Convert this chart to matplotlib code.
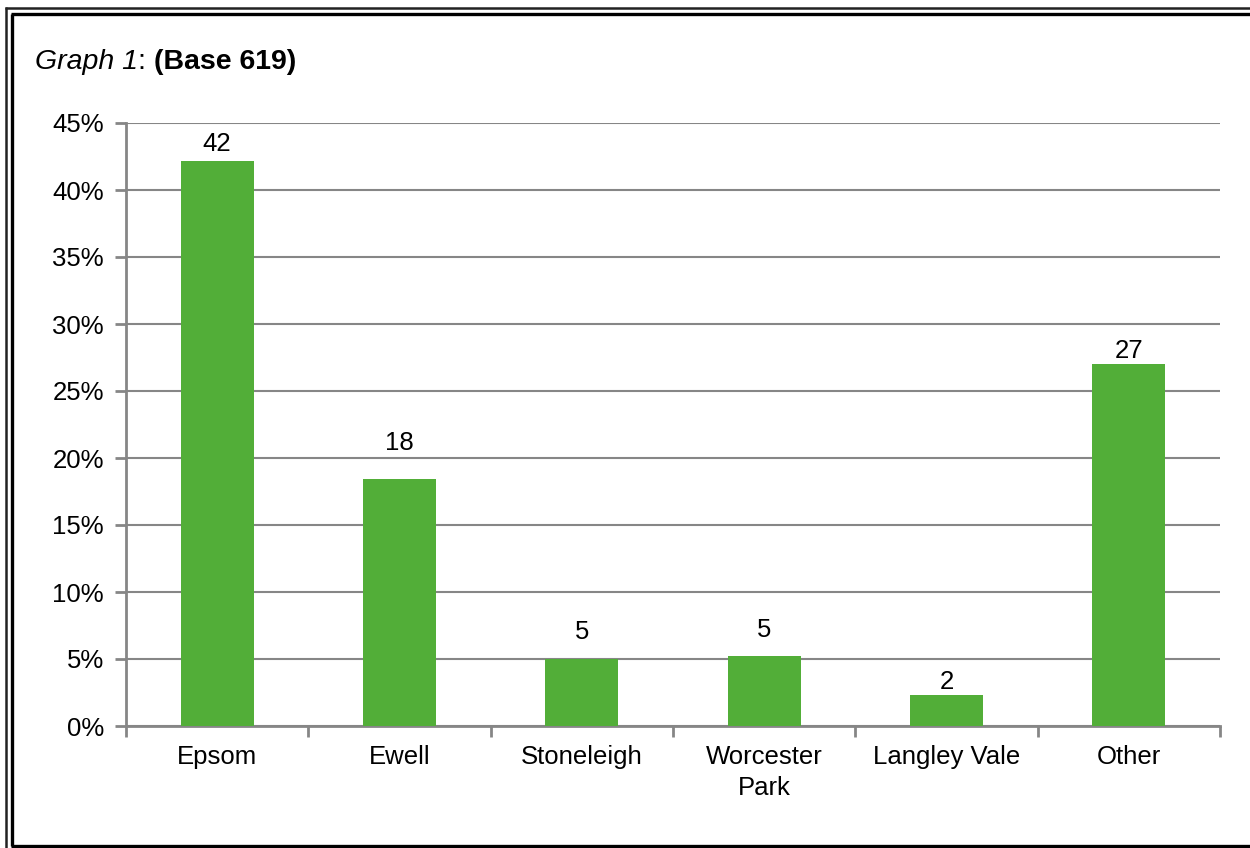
import matplotlib
matplotlib.use("Agg")
import matplotlib.pyplot as plt
from matplotlib.lines import Line2D
from matplotlib.ticker import PercentFormatter, FixedLocator

# data
categories = ["Epsom", "Ewell", "Stoneleigh", "Worcester\nPark", "Langley Vale", "Other"]
values = [42.2, 18.4, 5.0, 5.2, 2.3, 27.0]
labels = ["42", "18", "5", "5", "2", "27"]

# how far (px) each label's centre sits above its bar, as in the source
label_gap = [17, 36, 27, 26, 13, 13]

plt.rcParams["font.family"] = ["Liberation Sans", "DejaVu Sans"]

W, H = 1250, 848
fs = 18.5
fig = plt.figure(figsize=(W / 100, H / 100), dpi=100)
ax = fig.add_axes([126 / W, 1 - 726 / H, (1220 - 126) / W, (726 - 123) / H])

grid_c = "#868686"
green = "#52AE38"

x = list(range(len(categories)))
ax.bar(x, values, width=0.4, color=green, zorder=3)
for xi, v, lab, g in zip(x, values, labels, label_gap):
    ax.annotate(lab, (xi, v), xytext=(0, g * 0.72), textcoords="offset points",
                ha="center", va="center", fontsize=fs, color="black")

ax.set_xlim(-0.5, len(categories) - 0.5)
ax.set_ylim(0, 45)
ax.set_yticks(range(0, 46, 5))
ax.yaxis.set_major_formatter(PercentFormatter(decimals=0))
ax.set_xticks(x)
ax.set_xticklabels(categories, fontsize=fs, linespacing=1.35)
ax.tick_params(axis="x", length=0, pad=14)
ax.xaxis.set_minor_locator(FixedLocator([i - 0.5 for i in range(len(categories) + 1)]))
ax.tick_params(axis="x", which="minor", length=8, width=2, color=grid_c)
ax.tick_params(axis="y", labelsize=fs, length=8, width=2, color=grid_c, pad=8)
ax.grid(axis="y", color=grid_c, linewidth=1.5, zorder=0)
for s in ["top", "right"]:
    ax.spines[s].set_visible(False)
for s in ["left", "bottom"]:
    ax.spines[s].set_color(grid_c)
    ax.spines[s].set_linewidth(2)

# title pieces chained one after another
tfs = 20.5
base_y = 1 - 69 / H
t1 = fig.text(35 / W, base_y, "Graph 1", style="italic", fontsize=tfs, va="baseline")
t2 = fig.text(0, base_y, ": ", fontsize=tfs, va="baseline")
t3 = fig.text(0, base_y, "(Base 619)", weight="bold", fontsize=tfs, va="baseline")
fig.canvas.draw()
r = fig.canvas.get_renderer()
t2.set_position((t1.get_window_extent(r).x1 / W, base_y))
fig.canvas.draw()
t3.set_position((t2.get_window_extent(r).x1 / W, base_y))

# double border (left, top) and bottom line
def fl(x0, y0, x1, y1, lw, c):
    fig.add_artist(Line2D([x0 / W, x1 / W], [1 - y0 / H, 1 - y1 / H], lw=lw, color=c,
                          transform=fig.transFigure, solid_capstyle="butt"))

fl(6, 7, 6, 848, 1.8, "#222222")
fl(12, 14, 12, 846, 2.4, "black")
fl(5, 8, 1250, 8, 1.8, "#222222")
fl(11, 14, 1250, 14, 2.4, "black")
fl(11, 846, 1250, 846, 2.4, "black")

fig.savefig("out.png", dpi=100)
